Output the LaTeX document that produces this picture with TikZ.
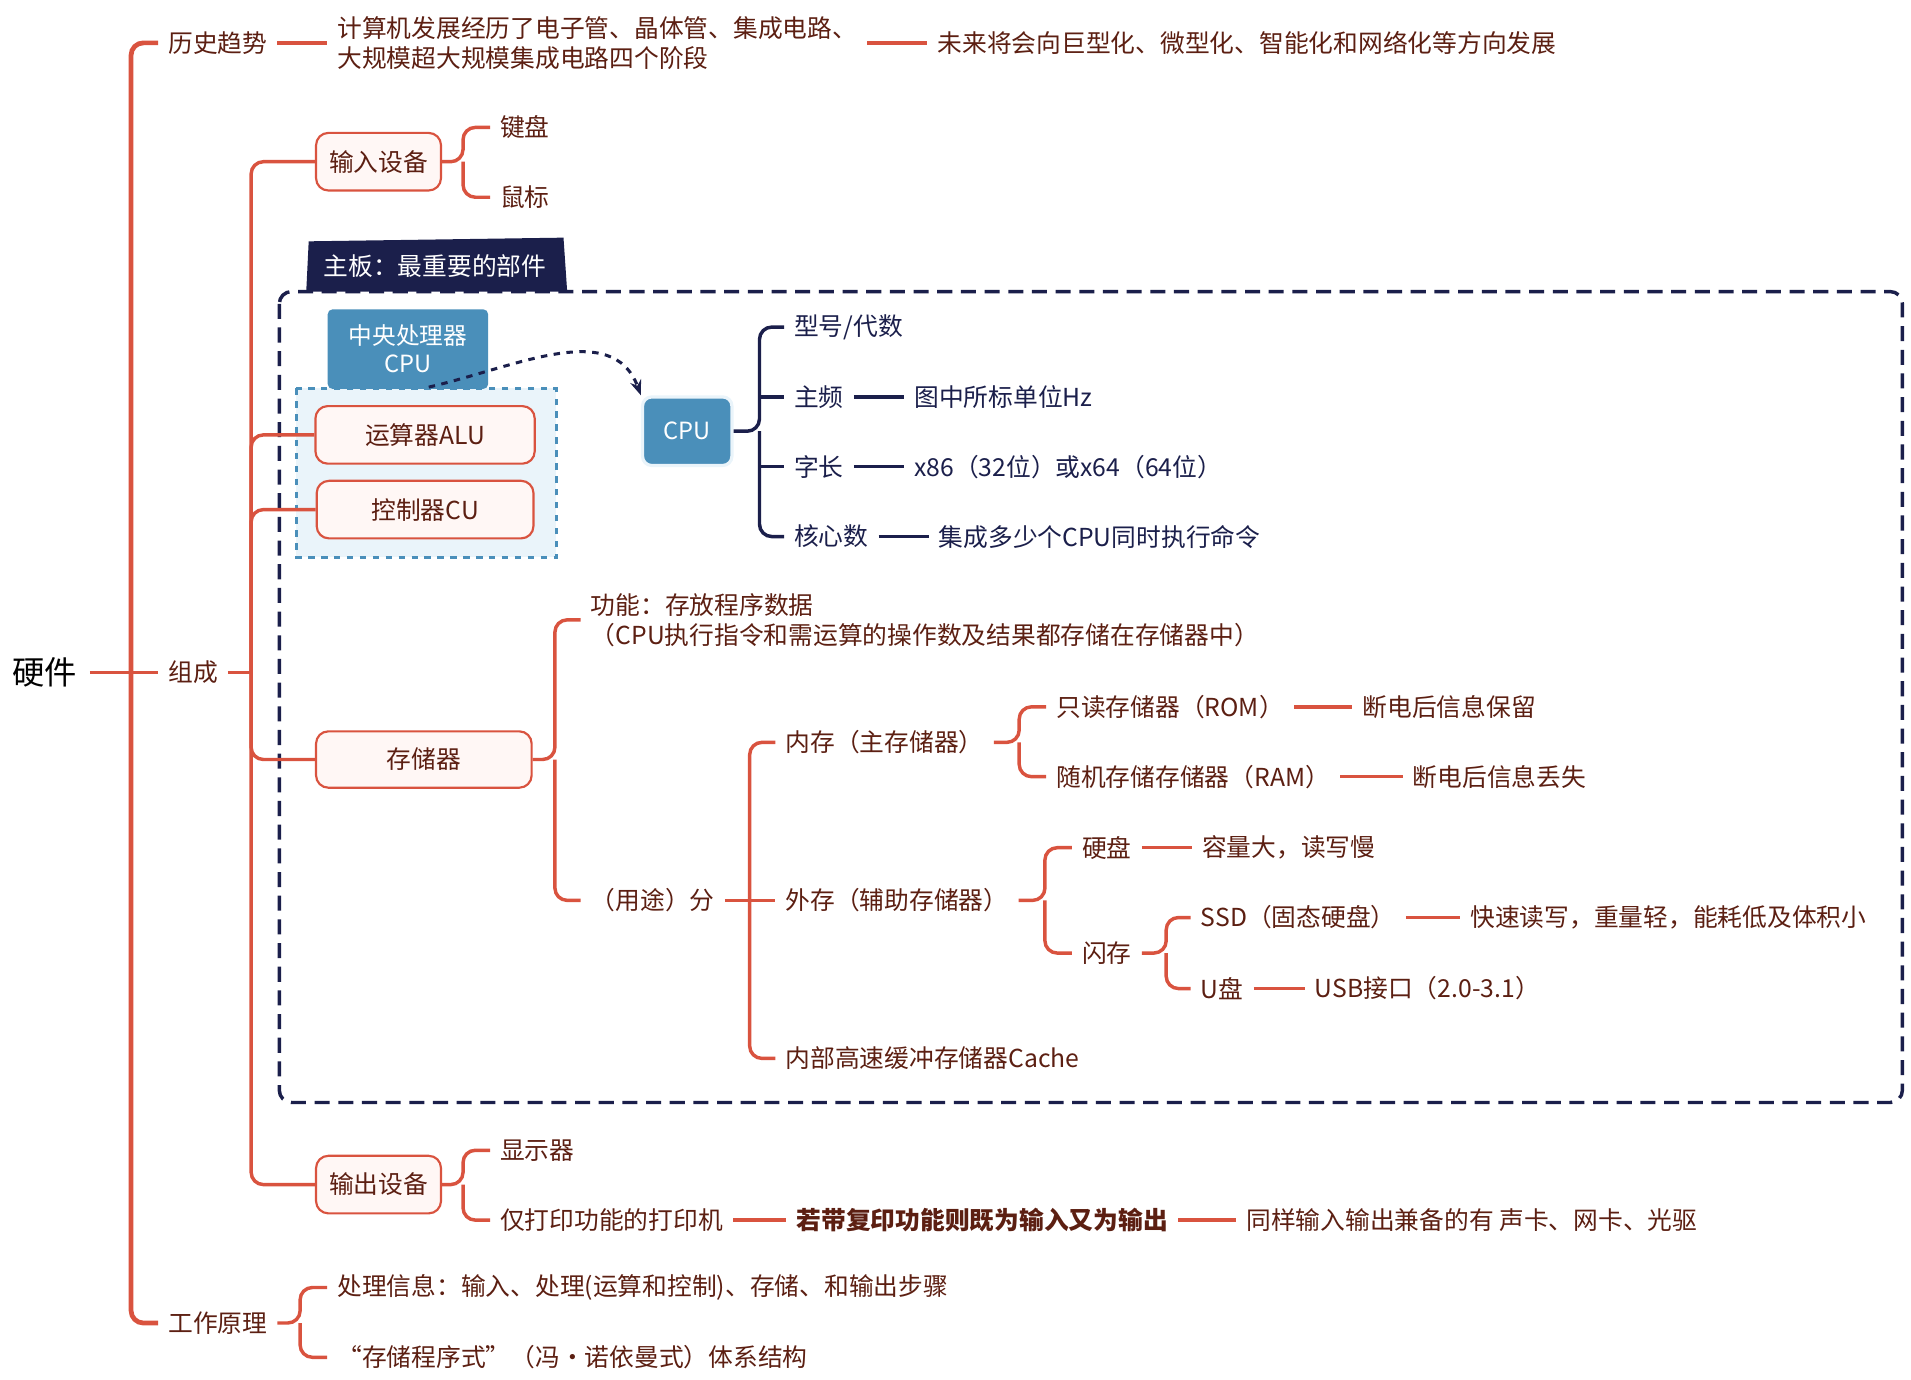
\documentclass[tikz,border=0pt]{standalone}
\usepackage{fontspec}
\setmainfont{Noto Sans CJK SC}
\usetikzlibrary{arrows.meta}
\definecolor{rl}{HTML}{D9533F}
\definecolor{rt}{HTML}{5C1F12}
\definecolor{nv}{HTML}{1B1F4B}
\definecolor{bl}{HTML}{4A8FBA}
\definecolor{lb}{HTML}{EAF4FA}
\definecolor{bf}{HTML}{FFF7F5}
\begin{document}
\begin{tikzpicture}[x=0.02cm,y=-0.02cm,
 t/.style={anchor=west,inner xsep=0.16cm,inner ysep=2pt,text=rt,font=\fontsize{11.5}{14}\selectfont,align=left},
 tn/.style={t,text=nv},
 ln/.style={draw=rl,line width=1.6pt},
 br/.style={draw=rl,line width=1.6pt,rounded corners=0.2cm},
 nb/.style={draw=nv,line width=1.6pt,rounded corners=0.2cm},
 box/.style={draw=rl,fill=bf,rounded corners=0.2cm,line width=1pt,text=rt,font=\fontsize{11.5}{14}\selectfont,inner sep=0pt}]
\useasboundingbox (0,0) rectangle (1560,1126);
% main
\node[anchor=west,inner xsep=0.2cm,font=\fontsize{15}{18}\selectfont,text=black] (hw) at (0,549) {硬件};
\node[t] (ls) at (129,35) {历史趋势};
\node[t] (zc) at (129,549) {组成};
\node[t] (gz) at (129,1080) {工作原理};
\draw[ln] (hw.east) -- (107,549);
\draw[br,line width=2.2pt] (ls.west) -| (107,549) |- (gz.west);
\draw[ln] (107,549) -- (zc.west);
% history
\node[t] (ls1) at (267,35) {计算机发展经历了电子管、晶体管、集成电路、\\大规模超大规模集成电路四个阶段};
\node[t] (ls2) at (757,35) {未来将会向巨型化、微型化、智能化和网络化等方向发展};
\draw[ln] (ls.east) -- (ls1.west);
\draw[ln] (ls1.east) -- (ls2.west);
% motherboard frame
\draw[nv,dashed,line width=1.6pt,rounded corners=0.2cm,dash pattern=on 7pt off 4pt] (228,238) rectangle (1553,900);
\fill[nv] (252,197) -- (460,194) -- (463,238) -- (250,238) -- cycle;
\node[anchor=west,text=white,font=\fontsize{11.5}{14}\selectfont] (mb) at (258,217) {主板：最重要的部件};
% input
\node[box,minimum width=2.04cm,minimum height=0.94cm] (in) at (309,132) {输入设备};
\node[t] (jp) at (400,104) {键盘};
\node[t] (sb) at (400,161) {鼠标};
\draw[br] (in.east) -- (378,132) |- (jp.west);
\draw[br] (378,132) |- (sb.west);
% CPU group
\draw[bl,fill=lb,dashed,line width=1.3pt] (242,317) rectangle (454,455);
\node[fill=bl,rounded corners=0.08cm,minimum width=2.62cm,minimum height=1.3cm,text=white,align=center,font=\fontsize{11}{13}\selectfont,inner sep=0pt] (cpuT) at (333,285) {中央处理器\\CPU};
\node[box,minimum width=3.58cm,minimum height=0.94cm] (alu) at (347,355) {运算器ALU};
\node[box,minimum width=3.54cm,minimum height=0.94cm] (cu) at (347,416) {控制器CU};
\node[fill=bl,draw=lb,line width=1.5pt,rounded corners=0.15cm,minimum width=1.46cm,minimum height=1.12cm,text=white,font=\fontsize{11}{13}\selectfont,inner sep=0pt] (cpu) at (561,352) {CPU};
\coordinate (cs) at (350,316);
\draw[nv,dashed,line width=1.4pt,-{Stealth[length=7pt]}] (cs) .. controls (420,300) and (500,260) .. (cpu.north west);
% composition trunk
\coordinate (zj) at (205,549);
\draw[ln] (zc.east) -- (zj);
% CPU branch
\node[tn] (xh) at (640,267) {型号/代数};
\node[tn] (zp) at (640,324) {主频};
\node[tn] (zp2) at (738,324) {图中所标单位Hz};
\node[tn] (zz) at (640,381) {字长};
\node[tn] (zz2) at (738,381) {x86（32位）或x64（64位）};
\node[tn] (hx) at (640,438) {核心数};
\node[tn] (hx2) at (758,438) {集成多少个CPU同时执行命令};
\draw[nb] (cpu.east) -- (620,352) |- (xh.west);
\draw[nb] (620,352) |- (hx.west);
\draw[nb] (620,324) -- (zp.west);
\draw[nb] (620,381) -- (zz.west);
\draw[nv,line width=1.6pt] (zp.east) -- (zp2.west);
\draw[nv,line width=1.6pt] (zz.east) -- (zz2.west);
\draw[nv,line width=1.6pt] (hx.east) -- (hx2.west);
% storage
\node[box,minimum width=3.52cm,minimum height=0.92cm] (cc) at (346,620) {存储器};
\node[t] (gn) at (474,506) {功能：存放程序数据\\（CPU执行指令和需运算的操作数及结果都存储在存储器中）};
\node[t] (yt) at (474,735) {（用途）分};
\draw[br] (cc.east) -- (453,620) |- (474,506);
\draw[br] (453,620) |- (yt.west);
\node[t] (nc) at (633,606) {内存（主存储器）};
\node[t] (wc) at (633,735) {外存（辅助存储器）};
\node[t] (ca) at (633,864) {内部高速缓冲存储器Cache};
\draw[ln] (yt.east) -- (612,735);
\draw[br] (nc.west) -| (612,735) |- (ca.west);
\draw[ln] (612,735) -- (wc.west);
\node[t] (rom) at (854,577) {只读存储器（ROM）};
\node[t] (rom2) at (1104,577) {断电后信息保留};
\node[t] (ram) at (854,634) {随机存储存储器（RAM）};
\node[t] (ram2) at (1145,634) {断电后信息丢失};
\draw[br] (nc.east) -- (832,606) |- (rom.west);
\draw[br] (832,606) |- (ram.west);
\draw[ln] (rom.east) -- (rom2.west);
\draw[ln] (ram.east) -- (ram2.west);
\node[t] (yp) at (875,692) {硬盘};
\node[t] (yp2) at (973,692) {容量大，读写慢};
\node[t] (sc) at (875,778) {闪存};
\draw[br] (wc.east) -- (853,735) |- (yp.west);
\draw[br] (853,735) |- (sc.west);
\draw[ln] (yp.east) -- (yp2.west);
\node[t] (ssd) at (972,749) {SSD（固态硬盘）};
\node[t] (ssd2) at (1192,749) {快速读写，重量轻，能耗低及体积小};
\node[t] (up) at (972,807) {U盘};
\node[t] (up2) at (1065,807) {USB接口（2.0-3.1）};
\draw[br] (sc.east) -- (952,778) |- (ssd.west);
\draw[br] (952,778) |- (up.west);
\draw[ln] (ssd.east) -- (ssd2.west);
\draw[ln] (up.east) -- (up2.west);
% output
\node[box,minimum width=2.04cm,minimum height=0.94cm] (out) at (309,967) {输出设备};
\node[t] (xs) at (400,939) {显示器};
\node[t] (dy) at (400,996) {仅打印功能的打印机};
\node[t,font=\fontsize{11.5}{14}\selectfont\bfseries] (fy) at (642,996) {若带复印功能则既为输入又为输出};
\node[t] (sy) at (1009,996) {同样输入输出兼备的有 声卡、网卡、光驱};
\draw[br] (out.east) -- (378,967) |- (xs.west);
\draw[br] (378,967) |- (dy.west);
\draw[ln] (dy.east) -- (fy.west);
\draw[ln] (fy.east) -- (sy.west);
% composition connections
\draw[br] (in.west) -| (205,549) |- (out.west);
\draw[br] (205,549) |- (cc.west);
\draw[br] (205,549) |- (alu.west);
\draw[br] (205,549) |- (cu.west);
% working principle
\node[t] (p1) at (267,1051) {处理信息：输入、处理(运算和控制)、存储、和输出步骤};
\node[t] (p2) at (267,1108) {“存储程序式”（冯·诺依曼式）体系结构};
\draw[br] (gz.east) -- (245,1080) |- (p1.west);
\draw[br] (245,1080) |- (p2.west);
\end{tikzpicture}
\end{document}
